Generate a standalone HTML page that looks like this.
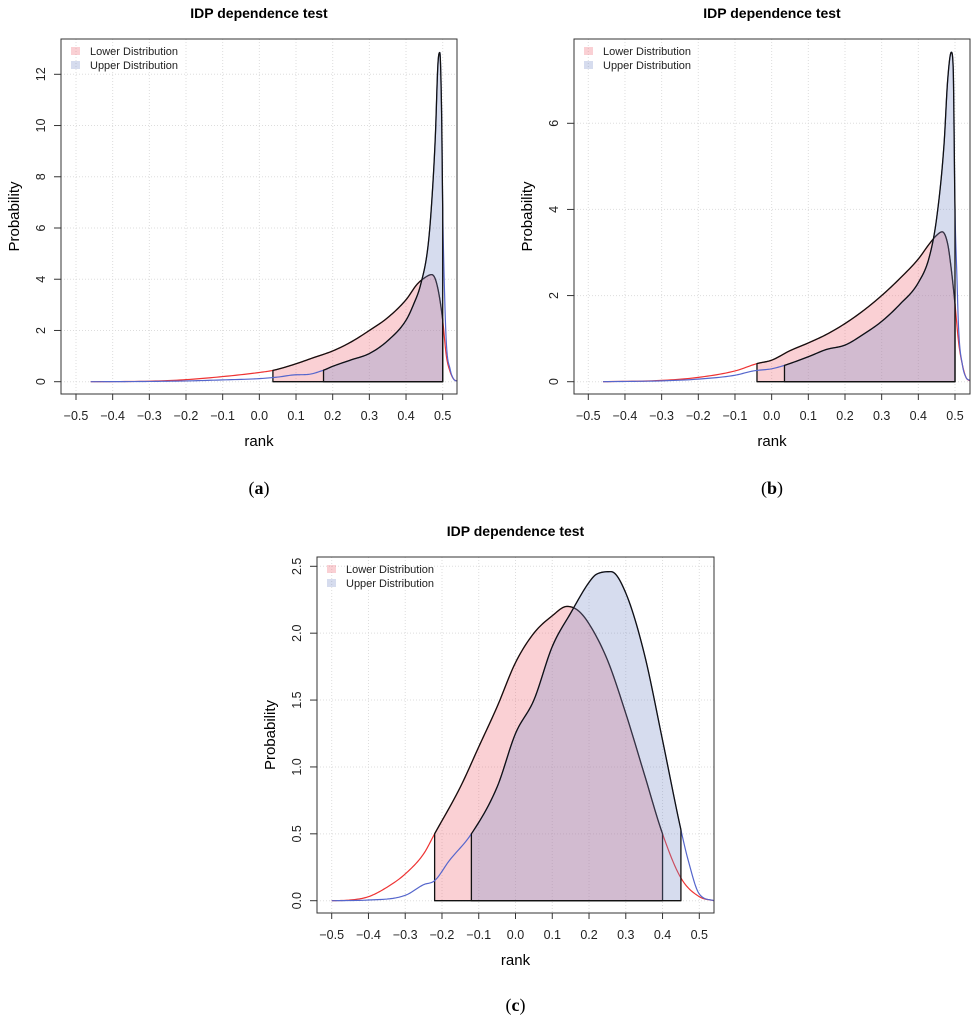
<!DOCTYPE html>
<html><head><meta charset="utf-8"><style>
body{margin:0;background:#fff}
svg{display:block;font-family:"Liberation Sans",Arial,sans-serif}
</style></head><body>
<svg id="fig" width="978" height="1024" viewBox="0 0 978 1024"></svg>
<script>
// Panel a data
const aLowX=[-0.46,-0.3,-0.2,-0.1,0,0.04,0.1,0.15,0.2,0.25,0.3,0.35,0.4,0.43,0.45,0.47,0.48,0.49,0.5,0.51,0.52,0.53,0.54];
const aLowY=[0,0.02,0.08,0.2,0.36,0.45,0.7,0.95,1.2,1.55,2.0,2.5,3.2,3.8,4.05,4.18,4.0,3.4,2.4,1.0,0.4,0.1,0.02];
const aUpX=[-0.46,-0.3,-0.2,-0.1,0,0.05,0.1,0.13,0.175,0.2,0.25,0.3,0.35,0.4,0.42,0.44,0.46,0.47,0.48,0.487,0.492,0.497,0.5,0.505,0.51,0.52,0.53,0.54];
const aUpY=[0,0.01,0.03,0.07,0.12,0.18,0.27,0.28,0.45,0.6,0.85,1.1,1.6,2.4,3.0,3.8,5.3,7.0,9.6,12.4,12.85,10.5,6.8,3.5,1.5,0.5,0.1,0.02];
const aLowBounds=[0.037,0.5];
const aUpBounds=[0.175,0.5];
const aYTicks=[0,2,4,6,8,10,12];
// Panel b data
const bLowX=[-0.46,-0.3,-0.2,-0.1,-0.04,0,0.05,0.1,0.15,0.2,0.25,0.3,0.35,0.4,0.43,0.45,0.465,0.48,0.49,0.5,0.51,0.52,0.53,0.54];
const bLowY=[0,0.03,0.1,0.25,0.42,0.5,0.72,0.9,1.1,1.35,1.65,2.0,2.4,2.85,3.2,3.4,3.48,3.2,2.6,1.8,0.9,0.4,0.1,0.02];
const bUpX=[-0.46,-0.3,-0.2,-0.1,-0.05,0,0.035,0.1,0.15,0.2,0.25,0.3,0.35,0.4,0.43,0.45,0.47,0.48,0.49,0.495,0.5,0.505,0.51,0.52,0.53,0.54];
const bUpY=[0,0.02,0.06,0.15,0.25,0.3,0.38,0.58,0.75,0.85,1.1,1.4,1.8,2.3,2.9,3.8,5.5,7.0,7.65,7.3,4.0,2.5,1.2,0.4,0.1,0.03];
const bLowBounds=[-0.04,0.5];
const bUpBounds=[0.035,0.5];
const bYTicks=[0,2,4,6];
// Panel c data
const cLowX=[-0.5,-0.45,-0.4,-0.35,-0.3,-0.25,-0.22,-0.15,-0.1,-0.05,0,0.05,0.1,0.14,0.17,0.2,0.25,0.3,0.35,0.4,0.45,0.5,0.54];
const cLowY=[0,0.005,0.03,0.1,0.2,0.35,0.5,0.85,1.15,1.45,1.78,2.0,2.13,2.2,2.17,2.07,1.8,1.4,0.95,0.5,0.17,0.03,0];
const cUpX=[-0.5,-0.4,-0.3,-0.25,-0.22,-0.18,-0.12,-0.05,0,0.05,0.1,0.15,0.2,0.22,0.26,0.3,0.35,0.4,0.45,0.47,0.5,0.54];
const cUpY=[0,0.005,0.04,0.12,0.15,0.3,0.5,0.85,1.25,1.5,1.9,2.15,2.38,2.44,2.46,2.3,1.85,1.2,0.53,0.3,0.05,0];
const cLowBounds=[-0.22,0.4];
const cUpBounds=[-0.12,0.45];
const cYTicks=[0,0.5,1.0,1.5,2.0,2.5];
const xTicks=[-0.5,-0.4,-0.3,-0.2,-0.1,0,0.1,0.2,0.3,0.4,0.5];

const NS='http://www.w3.org/2000/svg';
const svg=document.getElementById('fig');
function mk(tag,attrs,parent){const e=document.createElementNS(NS,tag);for(const k in attrs)e.setAttribute(k,attrs[k]);(parent||svg).appendChild(e);return e;}
// monotone cubic (Fritsch-Carlson) densification
function smooth(xs,ys){
  const n=xs.length,d=[],m=[];
  for(let i=0;i<n-1;i++)d.push((ys[i+1]-ys[i])/(xs[i+1]-xs[i]));
  m[0]=d[0];m[n-1]=d[n-2];
  for(let i=1;i<n-1;i++)m[i]=(d[i-1]*d[i]<=0)?0:(d[i-1]+d[i])/2;
  for(let i=0;i<n-1;i++){if(d[i]===0){m[i]=0;m[i+1]=0;continue;}const a=m[i]/d[i],b=m[i+1]/d[i],s=a*a+b*b;if(s>9){const t=3/Math.sqrt(s);m[i]=t*a*d[i];m[i+1]=t*b*d[i];}}
  const ox=[],oy=[];
  for(let i=0;i<n-1;i++){const h=xs[i+1]-xs[i];const N=12;
    for(let k=0;k<N;k++){const t=k/N,t2=t*t,t3=t2*t;
      ox.push(xs[i]+t*h);
      oy.push((2*t3-3*t2+1)*ys[i]+(t3-2*t2+t)*h*m[i]+(-2*t3+3*t2)*ys[i+1]+(t3-t2)*h*m[i+1]);}}
  ox.push(xs[n-1]);oy.push(ys[n-1]);
  return [ox,oy];
}
function interp(xs,ys,x){for(let i=0;i<xs.length-1;i++){if(x>=xs[i]&&x<=xs[i+1]){const t=(x-xs[i])/(xs[i+1]-xs[i]);return ys[i]+t*(ys[i+1]-ys[i]);}}return 0;}

function panel(P){
  const g=mk('g',{});
  
  
  const sx=v=>P.x0+(v+0.5)*(P.x1-P.x0);
  const sy=v=>P.y0-v*(P.y0-P.yTop)/P.yTopVal;
  xTicks.forEach(t=>{const l=mk('line',{x1:sx(t),x2:sx(t),y1:P.bt,y2:P.bb,stroke:'#ddd','stroke-dasharray':'1,2'},g);
    });
  P.yt.forEach(t=>{const l=mk('line',{x1:P.bl,x2:P.br,y1:sy(t),y2:sy(t),stroke:'#ddd','stroke-dasharray':'1,2'},g);
    });
  function series(rx,ry,b,fill,col,nm){
    const [xs,ys]=smooth(rx,ry);
    const pts=xs.map((x,i)=>[sx(x),sy(Math.max(0,ys[i]))]);
    const line=mk('polyline',{points:pts.map(p=>p.join(',')).join(' '),fill:'none',stroke:col,'stroke-width':1.2},g);
    
    const inner=[[b[0],interp(xs,ys,b[0])]];
    xs.forEach((x,i)=>{if(x>b[0]&&x<b[1])inner.push([x,ys[i]]);});
    inner.push([b[1],interp(xs,ys,b[1])]);
    const ip=inner.map(p=>[sx(p[0]),sy(Math.max(0,p[1]))]);
    const poly=[[sx(b[0]),sy(0)],...ip,[sx(b[1]),sy(0)]];
    const f=mk('polygon',{points:poly.map(p=>p.join(',')).join(' '),fill:fill,stroke:'#111','stroke-width':1.3,'stroke-linejoin':'round'},g);
    
  }
  series(P.lx,P.ly,P.lb,'rgba(238,110,120,0.32)','#ee3333','lower-distribution');
  series(P.ux,P.uy,P.ub,'rgba(120,140,200,0.3)','#5566cc','upper-distribution');
  const fr=mk('rect',{x:P.bl,y:P.bt,width:P.br-P.bl,height:P.bb-P.bt,fill:'none',stroke:'#333','stroke-width':1},g);
  
  xTicks.forEach(t=>{mk('line',{x1:sx(t),x2:sx(t),y1:P.bb,y2:P.bb+6,stroke:'#333'},g);
    const tx=mk('text',{x:sx(t),y:P.bb+26,'font-size':12.5,'text-anchor':'middle',fill:'#222'},g);
    tx.textContent=t===0?'0.0':(t<0?'\u2212':'')+'0.'+String(Math.round(Math.abs(t)*10));
    });
  P.yt.forEach(t=>{mk('line',{x1:P.bl-7,x2:P.bl,y1:sy(t),y2:sy(t),stroke:'#333'},g);
    const yy=sy(t),xx=P.bl-16;
    const tx=mk('text',{x:xx,y:yy,'font-size':12.5,'text-anchor':'middle',fill:'#222',transform:`rotate(-90 ${xx} ${yy})`},g);
    tx.textContent=P.dec?t.toFixed(1):String(t);
    });
  const cx=(P.bl+P.br)/2;
  const ti=mk('text',{x:cx,y:P.bt-21,'font-size':14,'font-weight':'bold','text-anchor':'middle'},g);
  ti.textContent='IDP dependence test';
  const xl=mk('text',{x:cx,y:P.bb+52,'font-size':15,'text-anchor':'middle'},g);
  xl.textContent='rank';
  const ly=(P.bt+P.bb)/2,lx=P.bl-42;
  const yl=mk('text',{x:lx,y:ly,'font-size':15,'text-anchor':'middle',transform:`rotate(-90 ${lx} ${ly})`},g);
  yl.textContent='Probability';
  const lg=mk('g',{},g);
  [['Lower Distribution','rgba(238,110,120,0.32)'],['Upper Distribution','rgba(120,140,200,0.3)']].forEach((e,i)=>{
    mk('rect',{x:P.bl+10,y:P.bt+8+i*14,width:9,height:8,fill:e[1]},lg);
    const t=mk('text',{x:P.bl+29,y:P.bt+16+i*14,'font-size':11,fill:'#222'},lg);t.textContent=e[0];
    });
  const cap=mk('text',{x:cx,y:P.cap,'font-size':18,'text-anchor':'middle','font-family':'Liberation Serif,serif'},g);
  cap.innerHTML='(<tspan font-weight="bold">'+P.label+'</tspan>)';
  
}
panel({name:'panel-a',bl:61,br:457,bt:39,bb:394,x0:76,x1:442.7,y0:381.7,yTop:74.3,yTopVal:12,yt:aYTicks,lx:aLowX,ly:aLowY,ux:aUpX,uy:aUpY,lb:aLowBounds,ub:aUpBounds,cap:494,label:'a'});
panel({name:'panel-b',bl:574,br:970,bt:39,bb:394,x0:588.3,x1:955,y0:381.7,yTop:123.3,yTopVal:6,yt:bYTicks,lx:bLowX,ly:bLowY,ux:bUpX,uy:bUpY,lb:bLowBounds,ub:bUpBounds,cap:494,label:'b'});
panel({name:'panel-c',bl:317,br:714,bt:557,bb:913,x0:331.7,x1:699.3,y0:900.7,yTop:566.3,yTopVal:2.5,yt:cYTicks,dec:true,lx:cLowX,ly:cLowY,ux:cUpX,uy:cUpY,lb:cLowBounds,ub:cUpBounds,cap:1011,label:'c'});
</script>
</body></html>
